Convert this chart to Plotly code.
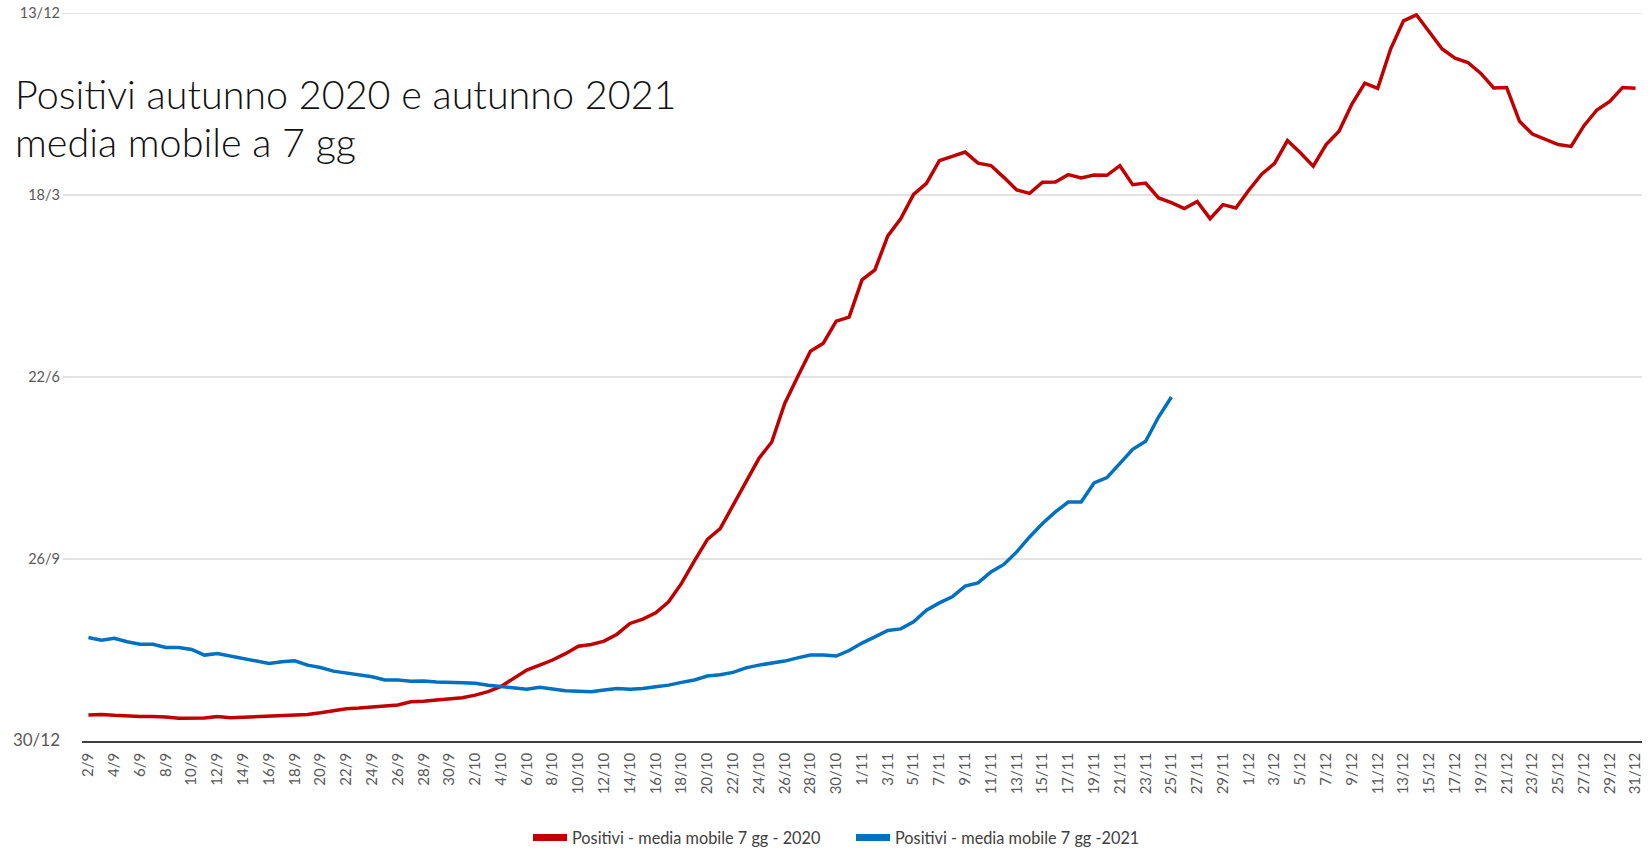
import pandas as pd
import plotly.graph_objects as go

# Categories: days from 2 Sep to 31 Dec
days = [f"{d.day}/{d.month}" for d in pd.date_range("2020-09-02", "2020-12-31", freq="D")]

# Y-axis tick labels (the source sheet shows the values formatted as dates)
y_tickvals = [0, 1, 2, 3, 4]
y_ticklabels = ["30/12", "26/9", "22/6", "18/3", "13/12"]

# Positivi - media mobile 7 gg - 2020 (in y-tick units)
positivi_2020 = [
    0.143, 0.146, 0.141, 0.137, 0.135, 0.134, 0.132, 0.125, 0.125, 0.126,
    0.134, 0.128, 0.130, 0.134, 0.137, 0.139, 0.143, 0.146, 0.155, 0.166,
    0.177, 0.181, 0.188, 0.192, 0.198, 0.216, 0.218, 0.225, 0.232, 0.238,
    0.252, 0.271, 0.300, 0.344, 0.390, 0.417, 0.445, 0.480, 0.521, 0.530,
    0.549, 0.587, 0.646, 0.670, 0.704, 0.765, 0.866, 0.990, 1.107, 1.167,
    1.294, 1.423, 1.552, 1.643, 1.853, 2.000, 2.142, 2.186, 2.307, 2.329,
    2.534, 2.589, 2.775, 2.869, 3.003, 3.064, 3.189, 3.212, 3.236, 3.175,
    3.162, 3.097, 3.028, 3.009, 3.070, 3.072, 3.112, 3.094, 3.110, 3.108,
    3.161, 3.057, 3.066, 2.984, 2.958, 2.925, 2.964, 2.870, 2.947, 2.929,
    3.026, 3.114, 3.174, 3.299, 3.232, 3.158, 3.277, 3.350, 3.500, 3.615,
    3.586, 3.802, 3.957, 3.990, 3.893, 3.802, 3.752, 3.728, 3.668, 3.588,
    3.591, 3.405, 3.335, 3.304, 3.277, 3.267, 3.381, 3.467, 3.514, 3.591,
    3.586,
]

# Positivi - media mobile 7 gg - 2021 (up to 25/11)
positivi_2021 = [
    0.569, 0.554, 0.564, 0.545, 0.532, 0.532, 0.514, 0.514, 0.503, 0.472,
    0.481, 0.467, 0.456, 0.441, 0.426, 0.435, 0.441, 0.417, 0.404, 0.384,
    0.375, 0.366, 0.353, 0.335, 0.335, 0.328, 0.329, 0.324, 0.320, 0.320,
    0.317, 0.306, 0.300, 0.292, 0.284, 0.295, 0.285, 0.276, 0.274, 0.271,
    0.280, 0.289, 0.285, 0.289, 0.298, 0.307, 0.322, 0.335, 0.357, 0.364,
    0.377, 0.402, 0.417, 0.426, 0.439, 0.457, 0.472, 0.472, 0.467, 0.497,
    0.538, 0.572, 0.607, 0.616, 0.655, 0.719, 0.759, 0.792, 0.851, 0.869,
    0.929, 0.970, 1.039, 1.121, 1.195, 1.259, 1.313, 1.313, 1.418, 1.447,
    1.524, 1.603, 1.647, 1.780, 1.890,
]

RED = "#c00000"
BLUE = "#0070c0"
FONT = "Lato"

W, H = 1652, 849
L, R, T, B = 82, 10, 13, 108
pw, ph = W - L - R, H - T - B

def sx(px):  # window pixel -> paper x
    return (px - L) / pw

def sy(py):  # window pixel -> paper y
    return (H - B - py) / ph

fig = go.Figure()
fig.add_trace(go.Scatter(x=days, y=positivi_2020, mode="lines",
                         line=dict(color=RED, width=3.5), showlegend=False))
fig.add_trace(go.Scatter(x=days[:len(positivi_2021)], y=positivi_2021, mode="lines",
                         line=dict(color=BLUE, width=3.5), showlegend=False))
# legend swatches
fig.add_trace(go.Scatter(x=[None], y=[None], mode="lines", line=dict(color=RED, width=7),
                         name="Positivi - media mobile 7 gg - 2020"))
fig.add_trace(go.Scatter(x=[None], y=[None], mode="lines", line=dict(color=BLUE, width=7),
                         name="Positivi - media mobile 7 gg -2021"))

# horizontal gridlines (extend a little left of the category axis, as in the source)
shapes = [dict(type="line", xref="paper", yref="y", x0=sx(63), x1=1,
               y0=v, y1=v, line=dict(color="#d9d9d9", width=1.3), layer="below")
          for v in y_tickvals[1:]]

y_ticktext = [
    f'<span style="font-size:17px">{t}</span>' if v == 0 else t
    for v, t in zip(y_tickvals, y_ticklabels)
]

title_font = dict(family=FONT, size=39.5, color="#111111", weight=300)
fig.update_layout(
    width=W, height=H,
    margin=dict(l=L, r=R, t=T, b=B, autoexpand=False),
    paper_bgcolor="white", plot_bgcolor="white",
    font=dict(family=FONT, color="#595959"),
    hovermode=False,
    shapes=shapes,
    legend=dict(orientation="h", x=sx(528), xanchor="left",
                y=sy(838), yanchor="middle",
                font=dict(family=FONT, size=16.3, color="#404040"),
                itemwidth=34, entrywidth=274, entrywidthmode="pixels",
                tracegroupgap=0),
    annotations=[
        dict(text="Positivi autunno 2020 e autunno 2021",
             xref="paper", yref="paper", x=sx(13), y=sy(93),
             xanchor="left", yanchor="middle", showarrow=False, font=title_font),
        dict(text="media mobile a 7 gg",
             xref="paper", yref="paper", x=sx(13), y=sy(141),
             xanchor="left", yanchor="middle", showarrow=False, font=title_font),
    ],
)
fig.update_xaxes(
    type="category", range=[-0.5, 120.5],
    tickmode="array", tickvals=days[::2], ticktext=days[::2],
    tickangle=-90, tickfont=dict(family=FONT, size=15, color="#595959"),
    showgrid=False, showline=True, linecolor="#404040", linewidth=1.5,
    ticks="", zeroline=False, automargin=False, ticklabelstandoff=4,
    ticklabeloverflow="allow",
)
fig.update_yaxes(
    range=[0, 4], tickmode="array", tickvals=y_tickvals, ticktext=y_ticktext,
    tickfont=dict(family=FONT, size=14.5, color="#595959"),
    showgrid=False, zeroline=False, showline=False, ticks="",
    automargin=False, ticklabelstandoff=21, ticklabeloverflow="allow",
)

# remove the default 8px page margin so the figure sits at the window corner
fig.write_html("out.html", config={"displayModeBar": False},
               post_script="document.body.style.margin='0';")
